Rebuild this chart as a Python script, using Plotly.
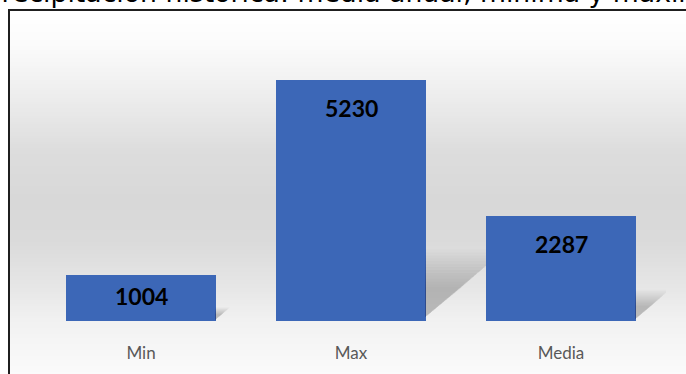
import plotly.graph_objects as go

# ---- data ----
categories = ["Min", "Max", "Media"]
values = [1004, 5230, 2287]
title_text = "Precipitación histórica: media anual, mínima y máxima"

# ---- layout geometry (pixels) ----
W, H = 686, 374
ML, MR, MT, MB = 36, 20, 45, 53
PW, PH = W - ML - MR, H - MT - MB
YMAX = 6000
BAR_W = 0.714
px_per_val = PH / YMAX
px_per_cat = PW / 3.0

def px_to_paper_x(px):
    return (px - ML) / PW

def px_to_paper_y(py):
    return (H - MB - py) / PH

fig = go.Figure()

# ---- soft shadows (derived from data values) ----
xs = list(range(len(categories)))
n_layers = 14
for i, v in enumerate(values):
    xr = i + BAR_W / 2 - 0.005
    h_px = v * px_per_val
    dx = 0.3 * h_px / px_per_cat
    dy = 0.27 * v
    next_left = (i + 1) - BAR_W / 2 if i + 1 < len(values) else 99
    for k in range(n_layers):
        scale = 1.1 - 0.045 * k
        ddx, ddy = dx * scale, dy * scale
        xe = min(xr + ddx, next_left)
        ye = ddy * (xe - xr) / ddx
        fig.add_trace(go.Scatter(
            x=[xr, xe, xe, xr, xr],
            y=[v * 0.015, ye, ddy, ddy, v * 0.015],
            fill="toself", mode="lines", line=dict(width=0),
            fillcolor="rgba(0,0,0,0.016)", hoverinfo="skip", showlegend=False,
        ))

# ---- bars ----
fig.add_trace(go.Bar(
    x=xs, y=values, width=BAR_W,
    marker=dict(color="#3c67b7", line=dict(width=0)),
    showlegend=False, hoverinfo="skip",
))

# ---- data labels ----
for i, v in enumerate(values):
    h_px = v * px_per_val
    fig.add_annotation(
        x=i, y=v, xref="x", yref="y", text=f"<b>{v}</b>", showarrow=False,
        yanchor="middle", yshift=-min(28, 0.45 * h_px),
        font=dict(family="Lato, Noto Sans, sans-serif", size=23, color="#000000"),
    )

# ---- background gradient stripes ----
stops = [(10, 255), (45, 251), (100, 236), (150, 221), (200, 216),
         (240, 218), (290, 231), (320, 241), (374, 251)]
def grey_at(py):
    for (y0, c0), (y1, c1) in zip(stops, stops[1:]):
        if y0 <= py <= y1:
            t = (py - y0) / (y1 - y0)
            return c0 + (c1 - c0) * t
    return stops[-1][1]

shapes = []
step = 2
py = 10
while py < H:
    g = int(round(grey_at(py + step / 2)))
    shapes.append(dict(
        type="rect", xref="paper", yref="paper", layer="below",
        x0=px_to_paper_x(10), x1=px_to_paper_x(W + 10),
        y0=px_to_paper_y(py + step + 0.5), y1=px_to_paper_y(py),
        line=dict(width=0), fillcolor=f"rgb({g},{g},{g})",
    ))
    py += step

# ---- frame ----
shapes.append(dict(
    type="rect", xref="paper", yref="paper", layer="above",
    x0=px_to_paper_x(9), x1=px_to_paper_x(W + 20),
    y0=px_to_paper_y(H + 20), y1=px_to_paper_y(10),
    line=dict(width=2, color="#1f1f1f"), fillcolor="rgba(0,0,0,0)",
))

# ---- clipped title ----
TITLE_FS = 26.7
fig.add_annotation(
    xref="paper", yref="paper", x=px_to_paper_x(-0.603 * TITLE_FS), y=px_to_paper_y(-7.5),
    xanchor="left", yanchor="middle", showarrow=False, text=title_text,
    font=dict(family="DejaVu Sans", size=TITLE_FS, color="#000000"),
)

fig.update_layout(
    width=W, height=H,
    margin=dict(l=ML, r=MR, t=MT, b=MB, pad=0),
    paper_bgcolor="#ffffff", plot_bgcolor="rgba(0,0,0,0)",
    shapes=shapes, bargap=0,
    xaxis=dict(range=[-0.5, 2.5], tickvals=xs, ticktext=categories,
               showgrid=False, zeroline=False, showline=False, ticks="",
               ticklabelstandoff=20,
               tickfont=dict(family="Lato, Noto Sans, sans-serif", size=17, color="#595959")),
    yaxis=dict(range=[0, YMAX], visible=False, showgrid=False, zeroline=False),
)

fig.write_html("out.html", config={"displayModeBar": False},
               post_script="document.body.style.margin='0';")
